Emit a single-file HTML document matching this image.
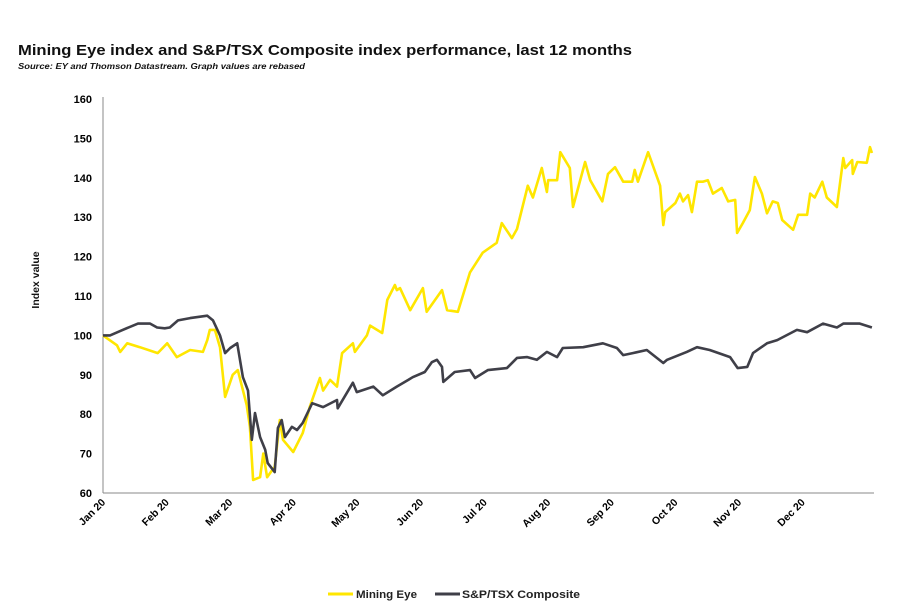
<!DOCTYPE html>
<html><head><meta charset="utf-8"><style>
body{margin:0;background:#fff;width:900px;height:607px;overflow:hidden;font-family:"Liberation Sans",sans-serif}
svg text{font-family:"Liberation Sans",sans-serif}
</style></head><body>
<svg id="chart" width="900" height="607">
<text x="18" y="55" font-size="15" font-weight="bold" fill="#111" textLength="614" lengthAdjust="spacingAndGlyphs">Mining Eye index and S&amp;P/TSX Composite index performance, last 12 months</text>
<text x="18" y="69" font-size="8.5" font-weight="bold" font-style="italic" fill="#111" textLength="287" lengthAdjust="spacingAndGlyphs">Source: EY and Thomson Datastream. Graph values are rebased</text>
<text transform="translate(39,280) rotate(-90)" text-anchor="middle" font-size="10.5" font-weight="bold" fill="#111">Index value</text>
<g id="axes"></g>
<g id="series"></g>
<g>
<line x1="328" y1="594" x2="353" y2="594" stroke="#FFE600" stroke-width="3"/>
<text x="356" y="598" font-size="11" font-weight="bold" fill="#222" textLength="61" lengthAdjust="spacingAndGlyphs">Mining Eye</text>
<line x1="435" y1="594" x2="460" y2="594" stroke="#3f3f48" stroke-width="3"/>
<text x="462" y="598" font-size="11" font-weight="bold" fill="#222" textLength="118" lengthAdjust="spacingAndGlyphs">S&amp;P/TSX Composite</text>
</g>
</svg>
<script>
const monthLabels=["Jan 20","Feb 20","Mar 20","Apr 20","May 20","Jun 20","Jul 20","Aug 20","Sep 20","Oct 20","Nov 20","Dec 20"];
const yTicks=[60,70,80,90,100,110,120,130,140,150,160];
const mineX=[0,0.22,0.27,0.38,0.58,0.86,1.01,1.16,1.37,1.57,1.64,1.68,1.76,1.84,1.92,2.04,2.12,2.26,2.31,2.36,2.47,2.52,2.58,2.66,2.70,2.78,2.83,2.99,3.14,3.25,3.41,3.46,3.57,3.68,3.76,3.93,3.96,4.15,4.20,4.39,4.47,4.59,4.62,4.67,4.83,5.03,5.09,5.33,5.41,5.58,5.77,5.97,6.19,6.27,6.43,6.51,6.68,6.76,6.90,6.98,7.00,7.14,7.19,7.34,7.39,7.58,7.66,7.85,7.94,8.05,8.18,8.32,8.36,8.41,8.57,8.76,8.81,8.84,9.00,9.07,9.12,9.20,9.26,9.34,9.43,9.51,9.59,9.73,9.83,9.94,9.97,10.06,10.17,10.25,10.36,10.44,10.53,10.61,10.68,10.85,10.93,11.07,11.12,11.19,11.31,11.38,11.54,11.64,11.67,11.78,11.79,11.86,12.01,12.06,12.09];
const mineY=[100,97.5,95.8,98,97,95.5,98,94.5,96.3,95.8,98.8,101.4,101.4,97,84.4,90,91.2,82.3,76.8,63.3,64,70,64,65.8,66.6,78.5,73.5,70.4,75.2,81.8,89.2,86,88.7,87,95.5,98,95.8,100,102.5,100.6,109,112.8,111.5,112,106.4,112,106,111.5,106.4,106,116,121,123.5,128.5,124.7,127,138,135,142.5,136.4,139.4,139.4,146.5,142.5,132.6,144,139.4,134,141,142.7,139,139,142,139,146.5,138,128,131.3,133.6,136,134,135.6,131.3,139,139,139.4,136,137.4,134,134.4,126,128.5,131.8,140.2,136,131,134,133.6,129.3,126.8,130.6,130.6,136,135,139,135,132.6,145,142.5,144.5,141,144,143.8,147.8,146.3];
const tsxX=[0,0.11,0.31,0.55,0.74,0.85,0.97,1.05,1.18,1.37,1.64,1.73,1.84,1.92,2.00,2.11,2.20,2.28,2.34,2.39,2.47,2.55,2.59,2.70,2.75,2.81,2.86,2.97,3.05,3.14,3.29,3.46,3.68,3.69,3.93,3.99,4.25,4.40,4.62,4.80,4.87,5.06,5.17,5.25,5.33,5.35,5.53,5.77,5.85,6.05,6.35,6.51,6.67,6.82,6.98,7.14,7.23,7.55,7.86,8.08,8.18,8.33,8.55,8.81,8.87,9.18,9.34,9.54,9.86,9.98,10.13,10.22,10.44,10.60,10.91,11.07,11.32,11.54,11.64,11.90,12.09];
const tsxY=[100,100,101.4,103,103,102,101.8,102,103.8,104.4,105,103.8,100,95.5,96.8,98,89.4,86,73.5,80.3,74.2,71,67.6,65.3,76.5,78.5,74.2,76.8,76,77.8,82.8,81.8,83.6,81.5,88,85.6,87,84.8,87,88.7,89.4,90.7,93.2,93.8,92,88.2,90.7,91.2,89.2,91.2,91.7,94.3,94.5,93.8,95.8,94.5,96.8,97,98,96.8,95,95.5,96.3,93,93.8,95.8,97,96.3,94.5,91.7,92,95.5,98,98.8,101.4,100.8,103,102,103,103,102];
const X0=103,MW=63.6,Y0=493,YT=99;
const xs=m=>X0+m*MW;
const ys=v=>Y0-(v-60)/100*(Y0-YT);
const NS="http://www.w3.org/2000/svg";
const axes=document.getElementById('axes'),ser=document.getElementById('series');
function mk(t,a,p){const e=document.createElementNS(NS,t);for(const k in a)e.setAttribute(k,a[k]);p.appendChild(e);return e;}
let ax=mk('line',{x1:X0,y1:YT-2,x2:X0,y2:Y0,stroke:'#888','stroke-width':1},axes);


let bx=mk('line',{x1:X0,y1:Y0,x2:874,y2:Y0,stroke:'#888','stroke-width':1},axes);


yTicks.forEach(v=>{const t=mk('text',{x:92,y:ys(v)+4,'text-anchor':'end','font-size':11,'font-weight':'bold',fill:'#000'},axes);t.textContent=v;

});
monthLabels.forEach((l,i)=>{const x=xs(i);const t=mk('text',{x:x+3,y:Y0+10,'text-anchor':'end','font-size':10.5,'font-weight':'bold',fill:'#000'},axes);t.textContent=l;
t.setAttribute('transform',`rotate(-45 ${x+3} ${Y0+10})`);

});
function line(X,Y,c,name){const d=X.map((m,i)=>(i?'L':'M')+xs(m).toFixed(1)+','+ys(Y[i]).toFixed(1)).join('');
const p=mk('path',{d:d,fill:'none',stroke:c,'stroke-width':2.6,'stroke-linejoin':'round'},ser);

}
line(mineX,mineY,'#FFE600','mining-eye-line');
line(tsxX,tsxY,'#3f3f48','tsx-composite-line');
</script>
</body></html>
